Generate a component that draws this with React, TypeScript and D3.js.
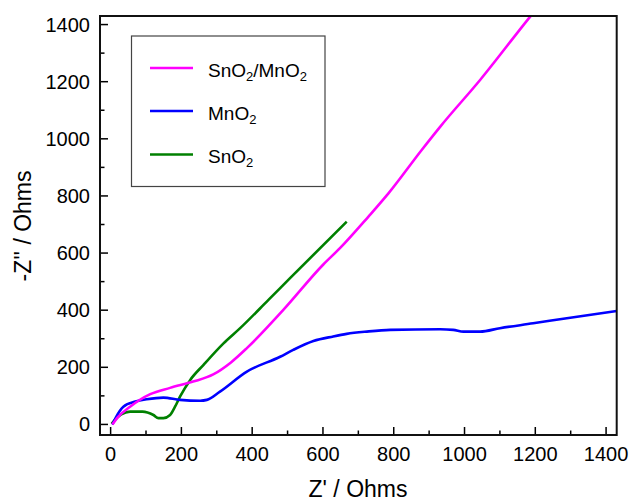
import React, { useRef, useEffect } from 'react';
import * as d3 from 'd3';

// Nyquist data: [Z', -Z'']
const snMnData: [number, number][] = [
  [5, 0], [20, 25], [55, 62], [112, 106], [168, 128], [233, 150], [290, 175],
  [340, 217], [385, 267], [488, 401], [601, 560], [648, 617], [728, 727],
  [785, 809], [879, 961], [931, 1042], [1044, 1206], [1185, 1427], [1210, 1465],
];
const mnData: [number, number][] = [
  [5, 0], [15, 25], [36, 62], [70, 80], [102, 88], [149, 94], [196, 86],
  [253, 83], [272, 86], [309, 115], [385, 185], [479, 237], [516, 261],
  [573, 292], [629, 308], [667, 317], [724, 325], [790, 331], [931, 333],
  [968, 331], [997, 325], [1044, 325], [1100, 337], [1194, 354], [1289, 372],
  [1430, 397],
];
const snData: [number, number][] = [
  [3, 2], [15, 20], [30, 35], [55, 45], [90, 45], [121, 33], [135, 22],
  [149, 22], [168, 33], [182, 62], [196, 97], [225, 156], [262, 208],
  [319, 284], [366, 337], [446, 436], [507, 512], [667, 710],
];

const seriesNames = ['SnO2/MnO2', 'MnO2', 'SnO2'];
const seriesColors = ['#ff00ff', '#0000ff', '#008000'];
const majorTicks = [0, 200, 400, 600, 800, 1000, 1200, 1400];
const minorTicks = [100, 300, 500, 700, 900, 1100, 1300];

const FONT = '"Liberation Sans", Arial, sans-serif';

const Chart = () => {
  const svgRef = useRef<SVGSVGElement>(null);

  useEffect(() => {
    const svg = d3.select(svgRef.current);
    svg.selectAll('*').remove();

    const left = 100, right = 616.7, top = 16, bottom = 435;

    const x = d3.scaleLinear().domain([-30, 1430]).range([left, right]);
    const y = d3.scaleLinear().domain([-37, 1430]).range([bottom, top]);

    svg.append('defs').append('clipPath').attr('id', 'plotclip')
      .append('rect')
      .attr('x', left).attr('y', top)
      .attr('width', right - left).attr('height', bottom - top);

    // Curves
    const line = d3.line<[number, number]>()
      .x(d => x(d[0]))
      .y(d => y(d[1]))
      .curve(d3.curveMonotoneX);

    const allData = [snMnData, mnData, snData];
    const g = svg.append('g').attr('clip-path', 'url(#plotclip)');
    // green first, magenta on top
    [2, 1, 0].forEach(i => {
      g.append('path')
        .attr('d', line(allData[i]))
        .attr('fill', 'none')
        .attr('stroke', seriesColors[i])
        .attr('stroke-width', 2.6)
        .attr('stroke-linejoin', 'round');
    });

    // Ticks (inward)
    const ticks = svg.append('g').attr('stroke', '#000').attr('stroke-width', 1.5);
    majorTicks.forEach(t => {
      ticks.append('line').attr('x1', x(t)).attr('x2', x(t)).attr('y1', bottom).attr('y2', bottom - 8);
      ticks.append('line').attr('x1', left).attr('x2', left + 8).attr('y1', y(t)).attr('y2', y(t));
    });
    minorTicks.forEach(t => {
      ticks.append('line').attr('x1', x(t)).attr('x2', x(t)).attr('y1', bottom).attr('y2', bottom - 4.5);
      ticks.append('line').attr('x1', left).attr('x2', left + 4.5).attr('y1', y(t)).attr('y2', y(t));
    });

    // Frame
    svg.append('rect')
      .attr('x', left).attr('y', top)
      .attr('width', right - left).attr('height', bottom - top)
      .attr('fill', 'none')
      .attr('stroke', '#111')
      .attr('stroke-width', 2);

    // Tick labels
    svg.append('g').selectAll('text').data(majorTicks).join('text')
      .attr('x', d => x(d)).attr('y', 461)
      .attr('text-anchor', 'middle')
      .attr('font-family', FONT).attr('font-size', 20)
      .text(d => d);
    svg.append('g').selectAll('text').data(majorTicks).join('text')
      .attr('x', 90).attr('y', d => y(d) + 7)
      .attr('text-anchor', 'end')
      .attr('font-family', FONT).attr('font-size', 20)
      .text(d => d);

    // Axis titles
    svg.append('text')
      .attr('x', 358).attr('y', 497)
      .attr('text-anchor', 'middle')
      .attr('font-family', FONT).attr('font-size', 23)
      .text("Z' / Ohms");
    svg.append('text')
      .attr('transform', 'translate(31,226) rotate(-90)')
      .attr('text-anchor', 'middle')
      .attr('font-family', FONT).attr('font-size', 23)
      .text("-Z'' / Ohms");

    // Legend
    const leg = svg.append('g');
    leg.append('rect')
      .attr('x', 131.5).attr('y', 36)
      .attr('width', 193.5).attr('height', 150.5)
      .attr('fill', '#fff')
      .attr('stroke', '#444')
      .attr('stroke-width', 1.2);
    const rowY = [68, 111, 154.5];
    seriesNames.forEach((name, i) => {
      leg.append('line')
        .attr('x1', 150).attr('x2', 193)
        .attr('y1', rowY[i]).attr('y2', rowY[i])
        .attr('stroke', seriesColors[i]).attr('stroke-width', 2.6);
      const t = leg.append('text')
        .attr('x', 208).attr('y', rowY[i] + 8.5)
        .attr('font-family', FONT).attr('font-size', 19);
      // the "2" is a subscript
      let shift = 0;
      name.split(/(2)/).filter(s => s !== '').forEach(part => {
        if (part === '2') {
          t.append('tspan').attr('font-size', 13).attr('dy', 4 - shift).text('2');
          shift = 4;
        } else {
          t.append('tspan').attr('dy', -shift).text(part);
          shift = 0;
        }
      });
    });
  }, []);

  return (
    <svg
      ref={svgRef}
      width={630}
      height={502}
      style={{ position: 'absolute', left: 0, top: 0, background: '#fff' }}
    />
  );
};

export default function App() {
  return <Chart />;
}
